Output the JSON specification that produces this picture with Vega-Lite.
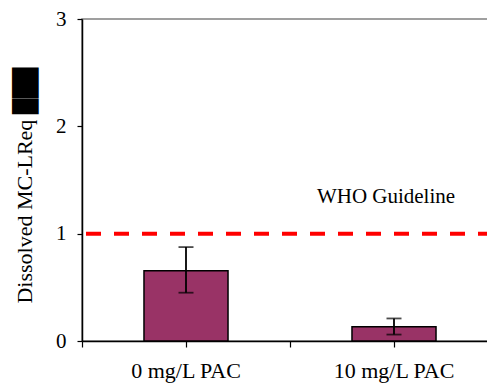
{
  "$schema": "https://vega.github.io/schema/vega-lite/v6.json",
  "autosize": "none",
  "padding": {"left": 82, "top": 19, "right": 0, "bottom": 42},
  "width": 416,
  "height": 322,
  "background": "white",
  "config": {
    "font": "Liberation Serif",
    "view": {"stroke": "#808080", "strokeWidth": 1.5},
    "axis": {"grid": false, "domainColor": "black", "tickColor": "black", "labelColor": "black", "titleColor": "black", "labelFont": "Liberation Serif", "titleFont": "Liberation Serif", "domainWidth": 1.5, "tickWidth": 1.2}
  },
  "datasets": {
    "bars": [
      {"treatment": "0 mg/L PAC", "mean": 0.655, "low": 0.45, "high": 0.875},
      {"treatment": "10 mg/L PAC", "mean": 0.133, "low": 0.06, "high": 0.21}
    ],
    "guide": [
      {"treatment": "10 mg/L PAC", "value": 1, "labelpos": 1.34, "label": "WHO Guideline"}
    ]
  },
  "resolve": {"axis": {"x": "independent"}},
  "layer": [
    {
      "data": {"name": "bars"},
      "mark": {"type": "bar", "color": "#993366", "stroke": "black", "strokeWidth": 1.5, "width": {"band": 0.404}},
      "encoding": {
        "x": {"field": "treatment", "type": "nominal", "sort": null,
          "scale": {"paddingInner": 0, "paddingOuter": 0},
          "axis": {"title": null, "orient": "bottom", "labelAngle": 0, "labelFont": "Liberation Serif", "labelFontSize": 22, "labelPadding": 13, "tickSize": 6, "domain": true}},
        "y": {"field": "mean", "type": "quantitative",
          "scale": {"domain": [0, 3], "nice": false},
          "axis": {"title": "Dissolved MC-LReq ███", "titleFont": "Liberation Serif", "titleFontSize": 22, "titleFontWeight": "normal",
            "titleX": -46, "titleY": 166, "titleAngle": -90, "titleBaseline": "bottom", "titleAlign": "center",
            "values": [0, 0.25, 0.5, 0.75, 1, 1.25, 1.5, 1.75, 2, 2.25, 2.5, 2.75, 3],
            "format": "d",
            "labelExpr": "datum.value % 1 === 0 ? datum.label : ''",
            "labelFont": "Liberation Serif", "labelFontSize": 21, "tickSize": 5, "labelPadding": 11}}
      }
    },
    {
      "data": {"name": "bars"},
      "mark": {"type": "rule", "color": "black", "strokeWidth": 1.8},
      "encoding": {
        "x": {"field": "treatment", "type": "nominal", "sort": null,
          "axis": {"title": null, "labels": false, "domain": false, "tickBand": "extent", "tickSize": 6, "orient": "bottom"}},
        "y": {"field": "low", "type": "quantitative"},
        "y2": {"field": "high"}
      }
    },
    {
      "data": {"name": "bars"},
      "mark": {"type": "tick", "color": "black", "size": 15, "thickness": 1.8, "orient": "horizontal"},
      "encoding": {
        "x": {"field": "treatment", "type": "nominal", "sort": null, "axis": null},
        "y": {"field": "low", "type": "quantitative"}
      }
    },
    {
      "data": {"name": "bars"},
      "mark": {"type": "tick", "color": "black", "size": 15, "thickness": 1.8, "orient": "horizontal"},
      "encoding": {
        "x": {"field": "treatment", "type": "nominal", "sort": null, "axis": null},
        "y": {"field": "high", "type": "quantitative"}
      }
    },
    {
      "data": {"name": "guide"},
      "mark": {"type": "rule", "color": "#FF0000", "strokeWidth": 4, "strokeDash": [15, 13], "strokeDashOffset": 23},
      "encoding": {
        "y": {"field": "value", "type": "quantitative"}
      }
    },
    {
      "data": {"name": "guide"},
      "mark": {"type": "text", "font": "Liberation Serif", "fontSize": 21, "color": "black", "baseline": "middle", "align": "center", "dx": -8},
      "encoding": {
        "x": {"field": "treatment", "type": "nominal", "sort": null, "axis": null},
        "y": {"field": "labelpos", "type": "quantitative"},
        "text": {"field": "label"}
      }
    }
  ]
}
